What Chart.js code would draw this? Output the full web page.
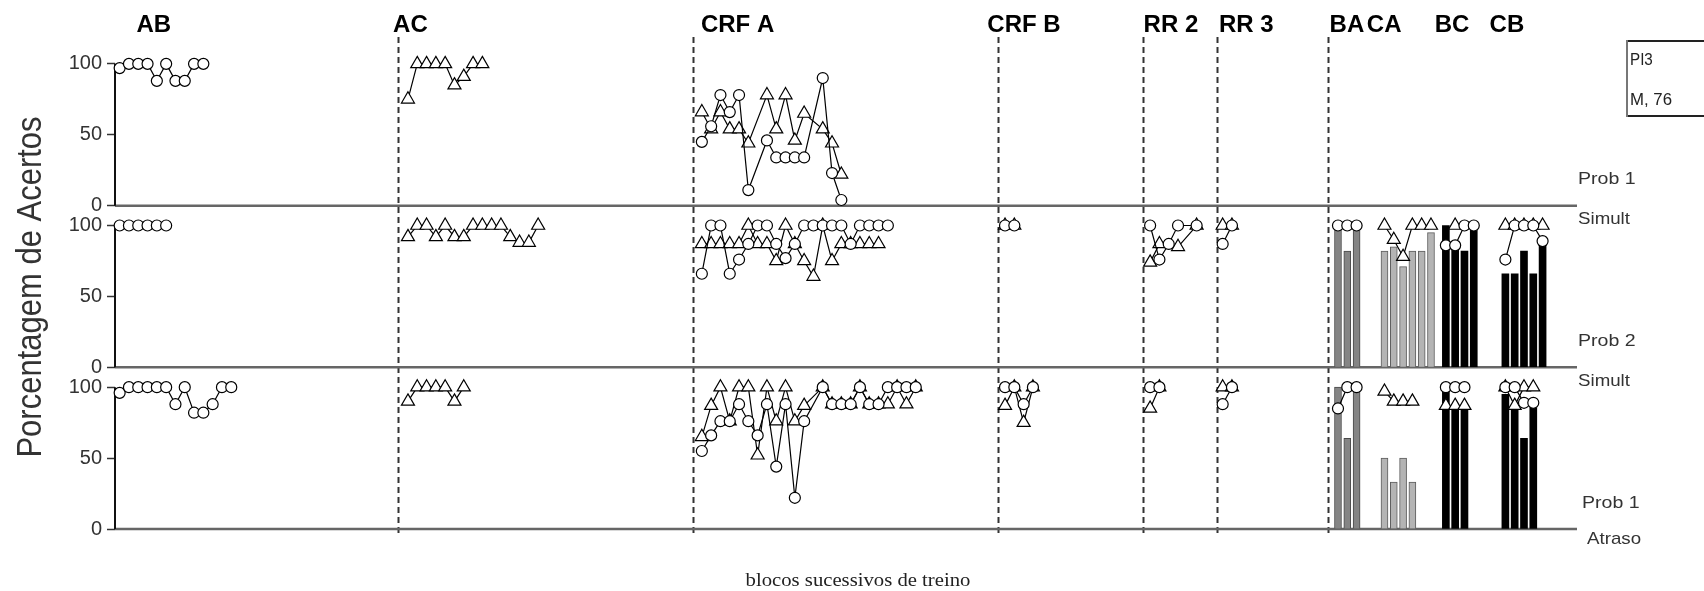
<!DOCTYPE html>
<html><head><meta charset="utf-8">
<script src="https://cdn.jsdelivr.net/npm/chart.js@4/dist/chart.umd.min.js"></script>
<style>html,body{margin:0;padding:0;background:#fff;}#wrap{width:1704px;height:591px;position:relative;}</style>
</head><body><div id="wrap"><canvas id="c" width="1704" height="591"></canvas></div>
<script>
// ---------------- DATA ----------------
const yTicks = [0, 50, 100];
const phaseNames = ['AB','AC','CRF A','CRF B','RR 2','RR 3','BA','CA','BC','CB'];
const phaseFirstBlock = [0, 31, 62.6, 95.2, 110.8, 118.6, 131, 136, 142.6, 149];
const phaseLabelBlock = [1.8, 29.4, 62.5, 93.3, 110.1, 118.2, 130.1, 134.1, 141.4, 147.3];
const phaseBoundaryBlock = [29.9, 61.6, 94.4, 110.0, 118.0, 129.9];
const panelTopLabels = ['Prob 1', 'Prob 2', 'Prob 1'];
const panelBottomLabels = ['Simult', 'Simult', 'Atraso'];
const subjectInfo = ['PI3', 'M, 76'];

// Panel 1 (Prob 1 / Simult)
const p1_AB_circ   = [97,100,100,100,88,100,88,88,100,100];
const p1_AC_tri    = [75,100,100,100,100,85,91,100,100];
const p1_CRFA_circ = [45,56,78,66,78,11,null,46,34,34,34,34,null,90,23,4];
const p1_CRFA_tri  = [66,54,66,54,54,44,null,78,54,78,46,65,null,54,44,22];

// Panel 2 (Prob 2 / Simult)
const p2_AB_circ   = [100,100,100,100,100,100];
const p2_AC_tri    = [92,100,100,92,100,92,92,100,100,100,100,92,88,88,100];
const p2_CRFA_circ = [66,100,100,66,76,87,100,100,87,77,87,100,100,100,100,100,87,100,100,100,100];
const p2_CRFA_tri  = [87,87,87,87,87,100,87,87,75,100,87,75,64,100,75,87,87,87,87,87];
const p2_CRFB_circ = [100,100];
const p2_CRFB_tri  = [100,100];
const p2_RR2_circ  = [100,76,87,100,null,100];
const p2_RR2_tri   = [74,87,null,85,null,100];
const p2_RR3_circ  = [87,100];
const p2_RR3_tri   = [100,100];
const p2_BA_circ   = [100,100,100];
const p2_BA_bar    = [100,82,100];
const p2_CA_tri    = [100,90,78,100,100,100];
const p2_CA_bar    = [82,85,71,82,82,95];
const p2_BC_circ   = [86,86,100,100];
const p2_BC_tri    = [null,100,null,null];
const p2_BC_bar    = [100,86,82,100];
const p2_CB_circ   = [76,100,100,100,89];
const p2_CB_tri    = [100,100,100,100,100];
const p2_CB_bar    = [66,66,82,66,89];

// Panel 3 (Prob 1 / Atraso)
const p3_AB_circ   = [96,100,100,100,100,100,88,100,82,82,88,100,100];
const p3_AC_tri    = [90,100,100,100,100,90,100];
const p3_CRFA_circ = [55,66,76,76,88,76,66,88,44,88,22,76,null,100,88,88,88,100,88,88,100,100,100,100];
const p3_CRFA_tri  = [65,87,100,76,100,100,52,100,76,100,76,87,null,100,88,88,88,100,88,88,88,100,88,100];
const p3_CRFB_circ = [100,100,88,100];
const p3_CRFB_tri  = [87,100,75,100];
const p3_RR2_circ  = [100,100];
const p3_RR2_tri   = [85,100];
const p3_RR3_circ  = [88,100];
const p3_RR3_tri   = [100,100];
const p3_BA_circ   = [85,100,100];
const p3_BA_bar    = [100,64,100];
const p3_CA_tri    = [97,90,90,90];
const p3_CA_bar    = [50,33,50,33];
const p3_BC_circ   = [100,100,100];
const p3_BC_tri    = [87,87,87];
const p3_BC_bar    = [100,87,87];
const p3_CB_circ   = [100,100,89,89];
const p3_CB_tri    = [100,87,100,100];
const p3_CB_bar    = [95,87,64,89];

// [panel axis, marker, phase index, values]
const markerSegments = [
  ['y1','circle',0,p1_AB_circ], ['y1','triangle',1,p1_AC_tri],
  ['y1','circle',2,p1_CRFA_circ], ['y1','triangle',2,p1_CRFA_tri],
  ['y2','circle',0,p2_AB_circ], ['y2','triangle',1,p2_AC_tri],
  ['y2','circle',2,p2_CRFA_circ], ['y2','triangle',2,p2_CRFA_tri],
  ['y2','circle',3,p2_CRFB_circ], ['y2','triangle',3,p2_CRFB_tri],
  ['y2','circle',4,p2_RR2_circ], ['y2','triangle',4,p2_RR2_tri],
  ['y2','circle',5,p2_RR3_circ], ['y2','triangle',5,p2_RR3_tri],
  ['y2','circle',6,p2_BA_circ], ['y2','triangle',7,p2_CA_tri],
  ['y2','circle',8,p2_BC_circ], ['y2','triangle',8,p2_BC_tri],
  ['y2','circle',9,p2_CB_circ], ['y2','triangle',9,p2_CB_tri],
  ['y3','circle',0,p3_AB_circ], ['y3','triangle',1,p3_AC_tri],
  ['y3','circle',2,p3_CRFA_circ], ['y3','triangle',2,p3_CRFA_tri],
  ['y3','circle',3,p3_CRFB_circ], ['y3','triangle',3,p3_CRFB_tri],
  ['y3','circle',4,p3_RR2_circ], ['y3','triangle',4,p3_RR2_tri],
  ['y3','circle',5,p3_RR3_circ], ['y3','triangle',5,p3_RR3_tri],
  ['y3','circle',6,p3_BA_circ], ['y3','triangle',7,p3_CA_tri],
  ['y3','circle',8,p3_BC_circ], ['y3','triangle',8,p3_BC_tri],
  ['y3','circle',9,p3_CB_circ], ['y3','triangle',9,p3_CB_tri]
];
const barSegments = [
  ['y2',6,p2_BA_bar], ['y2',7,p2_CA_bar], ['y2',8,p2_BC_bar], ['y2',9,p2_CB_bar],
  ['y3',6,p3_BA_bar], ['y3',7,p3_CA_bar], ['y3',8,p3_BC_bar], ['y3',9,p3_CB_bar]
];

// ---------------- STYLE / BUILD ----------------
const barFill = {6:'#858585', 7:'#b4b4b4', 8:'#000000', 9:'#000000'};
const barEdge = {6:'#4a4a4a', 7:'#5c5c5c', 8:'#000000', 9:'#000000'};
const toPts = (phase, vals) => vals.map((v,i) => ({x: phaseFirstBlock[phase] + i, y: v}));

const datasets = [];
markerSegments.forEach(([ax, mk, ph, vals]) => {
  datasets.push({
    type:'line', data: toPts(ph, vals), yAxisID: ax, xAxisID:'x',
    borderColor:'#000', borderWidth:1.2, tension:0, spanGaps:true,
    pointStyle: mk, pointRadius: mk === 'circle' ? 5.5 : 7.5, pointBorderWidth:1.2,
    pointBackgroundColor:'#fff', pointBorderColor:'#000',
    order: mk === 'circle' ? 1 : 2, clip:false
  });
});
barSegments.forEach(([ax, ph, vals]) => {
  datasets.push({
    type:'bar', data: toPts(ph, vals), yAxisID: ax, xAxisID:'x',
    backgroundColor: barFill[ph], borderColor: barEdge[ph], borderWidth: ph < 8 ? 1 : 0,
    barThickness:7, grouped:false, order:3
  });
});

function yScale(w){
  return {
    type:'linear', position:'left', stack:'panels', stackWeight:1, weight:w,
    min:0, max:114,
    afterBuildTicks: s => { s.ticks = yTicks.map(v => ({value:v})); },
    afterFit: s => { s.width = 115; },
    ticks:{ font:{family:'"Liberation Sans", Arial, sans-serif', size:20}, color:'#333', padding:5 },
    grid:{ drawOnChartArea:false, drawTicks:true, tickLength:8, tickColor:'#333', tickWidth:1.5 },
    border:{ display:false }
  };
}

function drawText(ctx, s, x, y, font, color, align, sx){
  ctx.save(); ctx.font = font; ctx.fillStyle = color; ctx.textBaseline = 'middle';
  ctx.textAlign = align || 'left'; ctx.translate(x, y); ctx.scale(sx || 1, 1);
  ctx.fillText(s, 0, 0); ctx.restore();
}

const decor = {
  id:'decor',
  beforeDatasetsDraw(chart){
    const {ctx, chartArea, scales} = chart;
    const xs = scales.x;
    ctx.save();
    ctx.strokeStyle = '#333'; ctx.lineWidth = 2; ctx.setLineDash([6,4]);
    phaseBoundaryBlock.forEach(b => {
      const px = Math.round(xs.getPixelForValue(b)) + 0.5;
      ctx.beginPath(); ctx.moveTo(px, 37); ctx.lineTo(px, 537); ctx.stroke();
    });
    ctx.setLineDash([]);
    ['y1','y2','y3'].forEach(id => {
      const s = scales[id];
      const y0 = s.getPixelForValue(0), y100 = s.getPixelForValue(100);
      ctx.strokeStyle = '#666'; ctx.lineWidth = 2.5;
      ctx.beginPath(); ctx.moveTo(chartArea.left, y0); ctx.lineTo(chartArea.right, y0); ctx.stroke();
      ctx.strokeStyle = '#111'; ctx.lineWidth = 2;
      ctx.beginPath(); ctx.moveTo(chartArea.left, y100); ctx.lineTo(chartArea.left, y0); ctx.stroke();
    });
    ctx.restore();
  },
  afterDraw(chart){
    const {ctx, chartArea, scales} = chart;
    const xs = scales.x;
    phaseNames.forEach((n,i) => {
      drawText(ctx, n, xs.getPixelForValue(phaseLabelBlock[i]), 25, 'bold 24px "Liberation Sans", Arial, sans-serif', '#000', 'left', 1);
    });
    const rf = '17px "Liberation Sans", Arial, sans-serif';
    ['y1','y2','y3'].forEach((id,i) => {
      const y0 = scales[id].getPixelForValue(0);
      const dx = i === 2 ? 5 : 1;
      drawText(ctx, panelTopLabels[i], chartArea.right + dx, y0 - 26, rf, '#333', 'left', 1.15);
      drawText(ctx, panelBottomLabels[i], chartArea.right + (i === 2 ? 10 : 1), y0 + (i === 2 ? 10 : 14), rf, '#333', 'left', 1.1);
    });
    ctx.save();
    ctx.strokeStyle = '#222'; ctx.lineWidth = 2;
    ctx.beginPath(); ctx.moveTo(1704, 41); ctx.lineTo(1627, 41); ctx.stroke();
    ctx.beginPath(); ctx.moveTo(1627, 116); ctx.lineTo(1704, 116); ctx.stroke();
    ctx.strokeStyle = '#777';
    ctx.beginPath(); ctx.moveTo(1627, 40); ctx.lineTo(1627, 117); ctx.stroke();
    ctx.restore();
    drawText(ctx, subjectInfo[0], 1630, 61, '16px "Liberation Sans", Arial, sans-serif', '#222', 'left', 0.95);
    drawText(ctx, subjectInfo[1], 1630, 101, '16px "Liberation Sans", Arial, sans-serif', '#222', 'left', 1.05);
    ctx.save();
    ctx.translate(31, 287); ctx.scale(1.12, 1); ctx.rotate(-Math.PI/2);
    ctx.font = '31px "Liberation Sans", Arial, sans-serif'; ctx.fillStyle = '#333';
    ctx.textAlign = 'center'; ctx.textBaseline = 'middle';
    ctx.fillText('Porcentagem de Acertos', 0, 0);
    ctx.restore();
    drawText(ctx, 'blocos sucessivos de treino', 858, 581, '18px "Liberation Serif", "Times New Roman", serif', '#222', 'center', 1.15);
  }
};

new Chart(document.getElementById('c'), {
  type:'line',
  data:{ datasets },
  options:{
    responsive:false, animation:false,
    layout:{ padding:{ left:0, right:127, top:44, bottom:62 } },
    plugins:{ legend:{display:false}, tooltip:{enabled:false} },
    scales:{
      x:{ type:'linear', min:-0.5, max:156.7, display:false, offset:false, grid:{offset:false} },
      y1: yScale(3), y2: yScale(2), y3: yScale(1)
    }
  },
  plugins:[decor]
});
</script></body></html>
